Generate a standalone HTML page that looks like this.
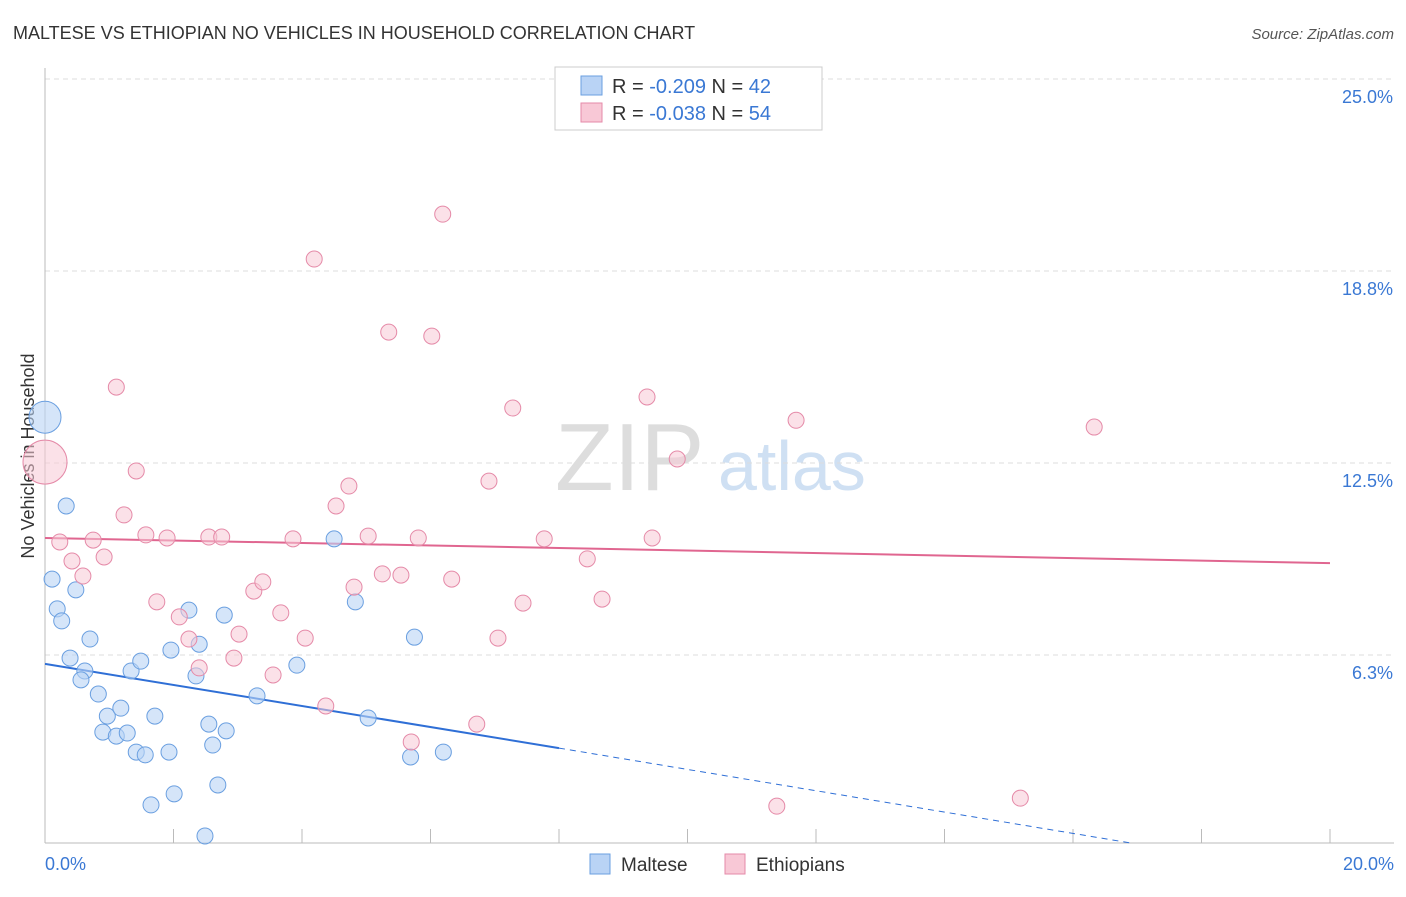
<!DOCTYPE html>
<html><head><meta charset="utf-8"><style>
body{margin:0;background:#fff;font-family:"Liberation Sans",sans-serif;}
svg text{font-family:"Liberation Sans",sans-serif;}
</style></head><body>
<svg id="chart" width="1406" height="892" viewBox="0 0 1406 892" xmlns="http://www.w3.org/2000/svg">
<text x="13" y="39" font-size="18" fill="#333">MALTESE VS ETHIOPIAN NO VEHICLES IN HOUSEHOLD CORRELATION CHART</text>
<text x="1394" y="39" font-size="15" fill="#555" text-anchor="end" font-style="italic">Source: ZipAtlas.com</text>
<g>
<text x="555" y="490" font-size="96" fill="#ddd" font-family="Liberation Serif,serif">ZIP</text>
<text x="718" y="490" font-size="70" fill="#cfe0f3">atlas</text>
</g>
<g id="grid"></g>
<g id="axes"></g>
<text transform="translate(34,456) rotate(-90)" font-size="18" fill="#333" text-anchor="middle">No Vehicles in Household</text>
<g id="trend"></g>
<g id="points"></g>
<g>
<rect x="555" y="67" width="267" height="63" fill="#fff" stroke="#ccc"/>
<rect x="581" y="76" width="21" height="19" fill="#b9d3f5" stroke="#6a9fe0"/>
<text x="612" y="93" font-size="20" fill="#333">R = <tspan fill="#3a78d4">-0.209</tspan>   N = <tspan fill="#3a78d4">42</tspan></text>
<rect x="581" y="103" width="21" height="19" fill="#f8c8d6" stroke="#e58aa8"/>
<text x="612" y="120" font-size="20" fill="#333">R = <tspan fill="#3a78d4">-0.038</tspan>   N = <tspan fill="#3a78d4">54</tspan></text>
</g>
<g>
<rect x="590" y="854" width="20" height="20" fill="#b9d3f5" stroke="#6a9fe0"/>
<text x="621" y="871" font-size="19" fill="#333">Maltese</text>
<rect x="725" y="854" width="20" height="20" fill="#f8c8d6" stroke="#e58aa8"/>
<text x="756" y="871" font-size="19" fill="#333">Ethiopians</text>
</g>
</svg>
<script>
const yTicks=[6.25,12.5,18.75,25];
const yTickLabels=["6.3%","12.5%","18.8%","25.0%"];
const xLabels=["0.0%","20.0%"];
const malteseX=[0,0.33,0.11,0.48,0.19,0.26,0.7,0.39,0.62,0.56,1.34,1.49,1.96,2.4,2.24,2.79,2.35,0.83,0.97,1.18,1.71,0.9,1.11,1.28,1.42,1.56,1.93,2.55,2.82,2.61,3.3,3.92,4.5,4.83,5.03,5.75,5.69,6.2,2.69,2.01,1.65,2.49];
const malteseY=[13.99,11.1,8.72,8.37,7.75,7.36,6.77,6.15,5.73,5.44,5.73,6.05,6.41,6.6,7.71,7.55,5.57,4.98,4.26,4.52,4.26,3.74,3.61,3.71,3.09,3,3.09,4.0,3.78,3.32,4.92,5.92,10.03,7.98,4.2,6.83,2.93,3.09,2.02,1.73,1.37,0.36];
const ethX=[0,0.23,0.42,0.59,0.75,0.92,1.11,1.23,1.42,1.57,1.74,1.9,2.09,2.24,2.4,2.55,2.75,3.02,2.94,3.25,3.39,3.55,3.67,3.86,4.05,4.19,4.37,4.53,4.73,4.81,5.03,5.25,5.35,5.54,5.7,5.81,6.02,6.19,6.33,6.72,6.91,7.05,7.28,7.44,7.77,8.44,8.67,9.37,9.45,9.84,11.39,11.69,15.18,16.33];
const ethY=[12.53,9.93,9.31,8.82,9.99,9.44,14.97,10.81,12.24,10.16,7.98,10.06,7.49,6.77,5.83,10.09,10.09,6.93,6.15,8.33,8.63,5.6,7.62,10.03,6.8,19.14,4.59,11.1,11.75,8.46,10.12,8.89,16.76,8.85,3.42,10.06,16.63,20.6,8.72,4.0,11.91,6.8,14.29,7.94,10.03,9.38,8.07,14.65,10.06,12.63,1.33,13.89,1.59,13.67];
const malteseTrend=[[0,5.96],[8,3.22],[16.9,0.13]];
const ethTrend=[[0,10.06],[20,9.24]];
const ns="http://www.w3.org/2000/svg";
const X=v=>45+v/20*1285, Y=v=>847-v/25*768;
function mk(t,a,p){const e=document.createElementNS(ns,t);for(const k in a)e.setAttribute(k,a[k]);p.appendChild(e);return e;}
const grid=document.getElementById('grid'),axes=document.getElementById('axes');
yTicks.forEach((t,i)=>{
 const l=mk('line',{x1:45,x2:1394,y1:Y(t),y2:Y(t),stroke:'#ddd','stroke-dasharray':'5,4'},grid);
 
 
 const tx=mk('text',{x:1393,y:Y(t)+24,'font-size':18,fill:'#3a78d4','text-anchor':'end'},axes);
 tx.textContent=yTickLabels[i];
 
 
});
mk('line',{x1:45,x2:45,y1:68,y2:843,stroke:'#bbb'},axes);
mk('line',{x1:45,x2:1394,y1:843,y2:843,stroke:'#bbb'},axes);
for(let i=0;i<=10;i++){const tk=mk('line',{x1:X(i*2),x2:X(i*2),y1:829,y2:843,stroke:'#bbb'},axes);
 
 }
[[0,'start',45],[1,'end',1394]].forEach(([i,a,x])=>{const t=mk('text',{x:x,y:870,'font-size':18,fill:'#3a78d4','text-anchor':a},axes);t.textContent=xLabels[i];
 
 });
const tr=document.getElementById('trend');
const e1=mk('line',{x1:X(ethTrend[0][0]),y1:Y(ethTrend[0][1]),x2:X(ethTrend[1][0]),y2:Y(ethTrend[1][1]),stroke:'#e06690','stroke-width':2},tr);


const m1=mk('line',{x1:X(malteseTrend[0][0]),y1:Y(malteseTrend[0][1]),x2:X(malteseTrend[1][0]),y2:Y(malteseTrend[1][1]),stroke:'#2f6fd6','stroke-width':2},tr);


const m2=mk('line',{x1:X(malteseTrend[1][0]),y1:Y(malteseTrend[1][1]),x2:X(malteseTrend[2][0]),y2:Y(malteseTrend[2][1]),stroke:'#2f6fd6','stroke-width':1,'stroke-dasharray':'6,5'},tr);


const pts=document.getElementById('points');
malteseX.forEach((x,i)=>{const c=mk('circle',{cx:X(x),cy:Y(malteseY[i]),r:i==0?16:8,fill:'rgba(185,211,245,0.6)',stroke:'#6a9fe0','stroke-width':1},pts);
 
 });
ethX.forEach((x,i)=>{const c=mk('circle',{cx:X(x),cy:Y(ethY[i]),r:i==0?22:8,fill:'rgba(248,200,214,0.55)',stroke:'#e58aa8','stroke-width':1},pts);
 
 });
</script>
</body></html>
